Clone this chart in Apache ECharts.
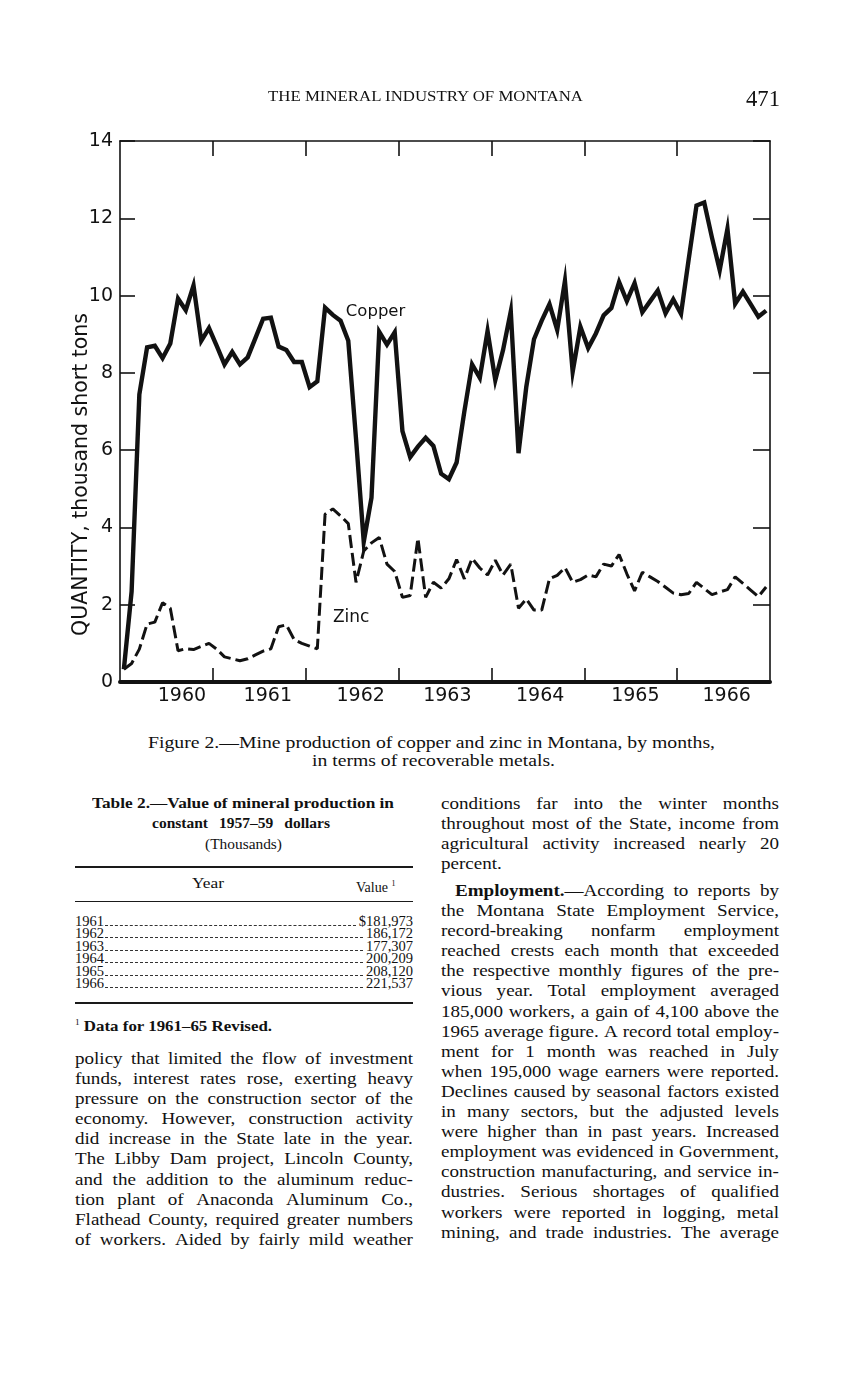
<!DOCTYPE html>
<html>
<head>
<meta charset="utf-8">
<script src="https://cdn.jsdelivr.net/npm/echarts@6/dist/echarts.min.js"></script>
<style>
  html, body { margin:0; padding:0; background:#fff; }
  body { width:861px; height:1379px; position:relative; overflow:hidden; color:#111; font-family:"Liberation Serif", serif; }
  #chart { position:absolute; left:0; top:0; width:861px; height:720px; }
  .t { position:absolute; white-space:nowrap; transform-origin:0 0; }
  .line { box-sizing:border-box; display:flex; justify-content:space-between; white-space:nowrap; height:20.1px; line-height:20.1px; font-size:17px; transform-origin:0 0; }
  .line.last { justify-content:flex-start; }
  .line.last span { margin-right:0.25em; }
  .col { position:absolute; width:338px; }
  .rule { position:absolute; background:#1a1a1a; }
  .row { position:absolute; left:75px; width:338px; display:flex; align-items:baseline; font-size:14.5px; height:12.4px; line-height:12.4px; }
  .row .lead { flex:1; border-bottom:1.3px dashed #333; margin:0 3px 0 1px; }
</style>
</head>
<body>
<div id="chart"></div>
<script>
// ---------------- data ----------------
const years = ['1960','1961','1962','1963','1964','1965','1966'];
const monthsPerYear = 12;

// Copper, thousand short tons, monthly Jan 1960 – Dec 1966
const copper = [
  0.33, 2.34, 7.44, 8.66, 8.70, 8.38, 8.76, 9.92, 9.62, 10.26, 8.83, 9.16,
  8.70, 8.22, 8.54, 8.22, 8.40, 8.90, 9.40, 9.43, 8.68, 8.59, 8.28, 8.28,
  7.63, 7.78, 9.69, 9.50, 9.35, 8.83, 6.30, 3.63, 4.77, 9.06, 8.73, 9.05,
  6.49, 5.82, 6.09, 6.32, 6.11, 5.39, 5.25, 5.68, 7.00, 8.22, 7.87, 9.08,
  7.81, 8.59, 9.59, 5.92, 7.63, 8.87, 9.35, 9.78, 9.11, 10.38, 8.03, 9.19,
  8.64, 9.02, 9.49, 9.68, 10.35, 9.86, 10.32, 9.57, 9.85, 10.13, 9.54, 9.90,
  9.53, 10.95, 12.33, 12.41, 11.50, 10.66, 11.73, 9.79, 10.10, 9.78, 9.45, 9.61
];
// Zinc, thousand short tons, monthly Jan 1960 – Dec 1966
const zinc = [
  0.33, 0.48, 0.85, 1.50, 1.55, 2.05, 1.91, 0.81, 0.86, 0.84, 0.92, 1.00,
  0.85, 0.65, 0.60, 0.55, 0.60, 0.70, 0.80, 0.86, 1.43, 1.48, 1.10, 1.00,
  0.93, 0.86, 4.34, 4.48, 4.30, 4.10, 2.58, 3.39, 3.60, 3.74, 3.05, 2.86,
  2.19, 2.24, 3.72, 2.19, 2.58, 2.43, 2.67, 3.17, 2.67, 3.20, 2.95, 2.77,
  3.15, 2.77, 3.05, 1.91, 2.15, 1.86, 1.86, 2.67, 2.76, 2.96, 2.58, 2.65,
  2.77, 2.72, 3.05, 3.00, 3.30, 2.80, 2.36, 2.84, 2.72, 2.60, 2.45, 2.30,
  2.26, 2.29, 2.58, 2.42, 2.26, 2.33, 2.39, 2.72, 2.55, 2.38, 2.21, 2.46
];
const yTicks = { min: 0, max: 14, step: 2 };
const seriesNames = ['Copper', 'Zinc'];
const axisName = 'QUANTITY, thousand short tons';

// ---------------- layout ----------------
const nMonths = years.length * monthsPerYear;           // x axis in months from Jan 1960
const yearBoundaries = years.slice(1).map((y, k) => (k + 1) * monthsPerYear);
const yearLabelPos = [8, 19.1, 31.1, 42.3, 54.3, 66.6, 78.4];
const INK = '#121212';
const SANS = '"DejaVu Sans", "Noto Sans", sans-serif';

const toPoints = (arr) => arr.map((v, i) => [i + 0.5, v]);

const chart = echarts.init(document.getElementById('chart'), null, { renderer: 'canvas' });
chart.setOption({
  animation: false,
  backgroundColor: '#fff',
  grid: { left: 120, top: 141, width: 650, height: 541, containLabel: false },
  xAxis: [
    {
      type: 'value', min: 0, max: nMonths, position: 'bottom',
      axisLine: { show: true, onZero: false, lineStyle: { color: INK, width: 4 } },
      axisTick: { show: true, inside: true, length: 14, customValues: yearBoundaries, lineStyle: { color: INK, width: 1.6 } },
      axisLabel: {
        customValues: yearLabelPos,
        formatter: (v) => years[Math.floor(v / monthsPerYear)] || '',
        color: INK, fontSize: 19, fontFamily: SANS, margin: 5
      },
      splitLine: { show: false }
    },
    {
      type: 'value', min: 0, max: nMonths, position: 'top',
      axisLine: { show: true, onZero: false, lineStyle: { color: INK, width: 1.6 } },
      axisTick: { show: true, inside: true, length: 15, customValues: yearBoundaries, lineStyle: { color: INK, width: 1.6 } },
      axisLabel: { show: false }, splitLine: { show: false }
    }
  ],
  yAxis: [
    {
      type: 'value', min: yTicks.min, max: yTicks.max, interval: yTicks.step, position: 'left',
      axisLine: { show: true, onZero: false, lineStyle: { color: INK, width: 1.6 } },
      axisTick: { show: true, inside: true, length: 15, lineStyle: { color: INK, width: 1.6 } },
      axisLabel: { color: INK, fontSize: 19, fontFamily: SANS, margin: 7 },
      splitLine: { show: false },
      name: axisName, nameLocation: 'middle', nameGap: 28, nameMoveOverlap: false,
      nameTextStyle: { color: INK, fontSize: 20.5, fontFamily: SANS, padding: [0, 126, 0, 0] }
    },
    {
      type: 'value', min: yTicks.min, max: yTicks.max, interval: yTicks.step, position: 'right',
      axisLine: { show: true, onZero: false, lineStyle: { color: INK, width: 1.6 } },
      axisTick: { show: true, inside: true, length: 17, lineStyle: { color: INK, width: 1.6 } },
      axisLabel: { show: false }, splitLine: { show: false }
    }
  ],
  series: [
    {
      name: seriesNames[0], type: 'line', data: toPoints(copper), xAxisIndex: 0, yAxisIndex: 0,
      symbol: 'none', lineStyle: { color: INK, width: 4.4, join: 'miter' },
      markPoint: {
        symbol: 'circle', symbolSize: 1, itemStyle: { color: 'rgba(0,0,0,0)' },
        label: { show: true, position: 'right', distance: 4, formatter: seriesNames[0], color: INK, fontSize: 16.5, fontFamily: SANS },
        data: [{ coord: [28.6, 9.57] }]
      }
    },
    {
      name: seriesNames[1], type: 'line', data: toPoints(zinc), xAxisIndex: 0, yAxisIndex: 0,
      symbol: 'none', lineStyle: { color: INK, width: 3, type: [13, 5] },
      markPoint: {
        symbol: 'circle', symbolSize: 1, itemStyle: { color: 'rgba(0,0,0,0)' },
        label: { show: true, position: 'right', distance: 5, formatter: seriesNames[1], color: INK, fontSize: 17, fontFamily: SANS },
        data: [{ coord: [26.8, 1.68] }]
      }
    }
  ]
});
</script>

<!-- page text -->
<div class="t" id="hdr" style="left:268px; top:89px; font-size:14px; line-height:16px;">THE MINERAL INDUSTRY OF MONTANA</div>
<div class="t" id="pg" style="left:746px; top:85px; font-size:24px; line-height:26px;">471</div>
<div class="t" id="cap1" style="left:148px; top:733px; font-size:17px; line-height:20px;">Figure 2.—Mine production of copper and zinc in Montana, by months,</div>
<div class="t" id="cap2" style="left:312px; top:751px; font-size:17px; line-height:20px;">in terms of recoverable metals.</div>

<div class="t" id="tt1" style="left:92px; top:794px; font-size:15.5px; line-height:18px; font-weight:bold;">Table 2.—Value of mineral production in</div>
<div class="t" id="tt2" style="left:152px; top:814px; width:178px; font-size:15.5px; line-height:18px; font-weight:bold; display:flex; justify-content:space-between;"><span>constant</span><span>1957–59</span><span>dollars</span></div>
<div class="t" id="tt3" style="left:205px; top:837px; font-size:14px; line-height:16px;">(Thousands)</div>
<div class="rule" style="left:75px; top:866px; width:338px; height:1.6px;"></div>
<div class="t" id="yh" style="left:192px; top:876px; font-size:14px; line-height:16px;">Year</div>
<div class="t" style="left:356px; top:876px; font-size:14px; line-height:16px;">Value <sup style="font-size:8px;">1</sup></div>
<div class="rule" style="left:75px; top:901px; width:338px; height:1px;"></div>
<div id="rows"></div>
<div class="rule" style="left:75px; top:1002px; width:338px; height:1.6px;"></div>
<div class="t" id="fn" style="left:75px; top:1015px; font-size:14.5px; line-height:16px;"><sup style="font-size:8px;">1</sup> <b>Data for 1961–65 Revised.</b></div>

<div class="col" id="colL" style="left:75px; top:1049px;"></div>
<div class="col" id="colR1" style="left:441px; top:794px;"></div>
<div class="col" id="colR2" style="left:441px; top:881px;"></div>

<script>
// table rows
const tableYears = ['1961','1962','1963','1964','1965','1966'];
const tableValues = ['$181,973','186,172','177,307','200,209','208,120','221,537'];
const rowsEl = document.getElementById('rows');
tableYears.forEach((y, k) => {
  const r = document.createElement('div');
  r.className = 'row';
  r.style.top = (915 + 12.4 * k) + 'px';
  r.innerHTML = '<span>' + y + '</span><span class="lead"></span><span>' + tableValues[k] + '</span>';
  rowsEl.appendChild(r);
});

function fitScale(id, target) {
  const el = document.getElementById(id);
  const w = el.getBoundingClientRect().width;
  el.style.transform = 'scaleX(' + (target / w) + ')';
}
fitScale('hdr', 315);
fitScale('pg', 34);
fitScale('cap1', 567);
fitScale('cap2', 243);
fitScale('tt1', 302);
fitScale('tt3', 77);
fitScale('yh', 32);
fitScale('fn', 197);

function naturalWidth(text, fs) {
  const s = document.createElement('span');
  s.style.cssText = 'position:absolute;visibility:hidden;white-space:nowrap;font-family:"Liberation Serif",serif;font-size:' + fs + 'px';
  s.innerHTML = text.replace('Employment.—', '<b>Employment.</b>—');
  document.body.appendChild(s);
  const w = s.getBoundingClientRect().width;
  s.remove();
  return w;
}
function renderCol(id, lines, lastFlags, indentFirst, scale) {
  const c = document.getElementById(id);
  lines.forEach((ln, i) => {
    const d = document.createElement('div');
    d.className = 'line' + (lastFlags[i] ? ' last' : '');
    d.style.width = (338 / scale) + 'px';
    d.style.transform = 'scaleX(' + scale + ')';
    if (i === 0 && indentFirst) d.style.paddingLeft = (indentFirst / scale) + 'px';
    ln.split(' ').forEach(w => {
      const s = document.createElement('span');
      if (w.indexOf('Employment.—') === 0) {
        s.innerHTML = '<b>Employment.</b>—' + w.slice('Employment.—'.length);
      } else s.textContent = w;
      d.appendChild(s);
    });
    c.appendChild(d);
  });
}
const leftLines = [
  'policy that limited the flow of investment',
  'funds, interest rates rose, exerting heavy',
  'pressure on the construction sector of the',
  'economy. However, construction activity',
  'did increase in the State late in the year.',
  'The Libby Dam project, Lincoln County,',
  'and the addition to the aluminum reduc-',
  'tion plant of Anaconda Aluminum Co.,',
  'Flathead County, required greater numbers',
  'of workers. Aided by fairly mild weather'
];
const right1 = [
  'conditions far into the winter months',
  'throughout most of the State, income from',
  'agricultural activity increased nearly 20',
  'percent.'
];
const right2 = [
  'Employment.—According to reports by',
  'the Montana State Employment Service,',
  'record-breaking nonfarm employment',
  'reached crests each month that exceeded',
  'the respective monthly figures of the pre-',
  'vious year. Total employment averaged',
  '185,000 workers, a gain of 4,100 above the',
  '1965 average figure. A record total employ-',
  'ment for 1 month was reached in July',
  'when 195,000 wage earners were reported.',
  'Declines caused by seasonal factors existed',
  'in many sectors, but the adjusted levels',
  'were higher than in past years. Increased',
  'employment was evidenced in Government,',
  'construction manufacturing, and service in-',
  'dustries. Serious shortages of qualified',
  'workers were reported in logging, metal',
  'mining, and trade industries. The average'
];
const allBody = leftLines.concat(right1, right2);
const maxW = Math.max.apply(null, allBody.map(l => naturalWidth(l, 17)));
const bodyScale = Math.max(1, Math.min(1.18, 336 / maxW));
renderCol('colL', leftLines, leftLines.map(() => false), 0, bodyScale);
renderCol('colR1', right1, [false, false, false, true], 0, bodyScale);
renderCol('colR2', right2, right2.map(() => false), 14, bodyScale);
</script>
</body>
</html>
